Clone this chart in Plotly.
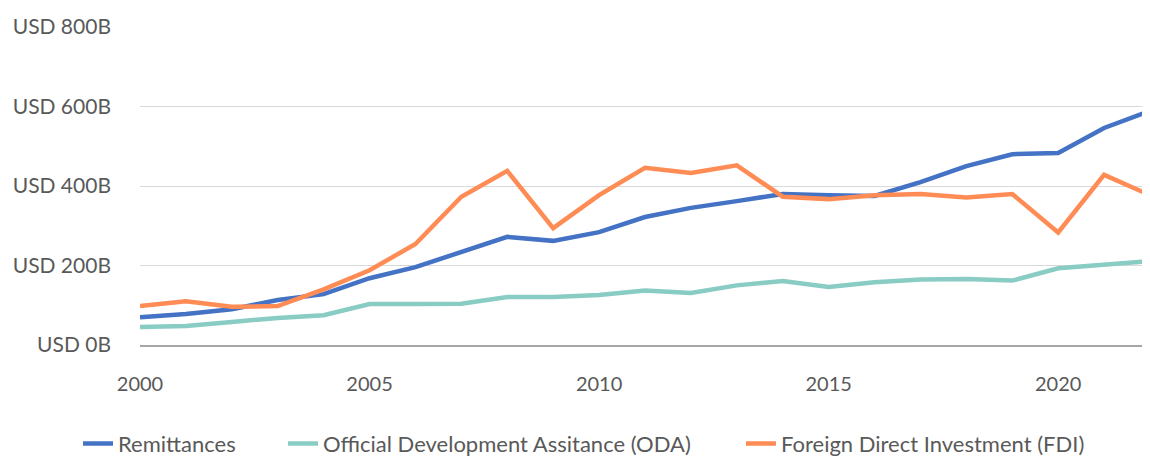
import plotly.graph_objects as go

years = list(range(2000, 2023))

# USD billions
remittances = [70, 78, 90, 113, 128, 168, 196, 234, 272, 262, 284, 322, 345, 362, 380,
               377, 375, 410, 450, 480, 483, 546, 589]
oda = [45, 48, 58, 68, 75, 103, 103, 104, 121, 121, 126, 137, 131, 150, 161,
       146, 158, 165, 166, 162, 193, 202, 211]
fdi = [98, 110, 96, 98, 140, 188, 254, 373, 438, 294, 377, 446, 433, 452, 373,
       367, 377, 380, 371, 380, 283, 428, 377]

y_ticks = [0, 200, 400, 600, 800]
y_labels = ["USD 0B", "USD 200B", "USD 400B", "USD 600B", "USD 800B"]
x_ticks = [2000, 2005, 2010, 2015, 2020]

font_name = "Lato"
grey = "#595959"

# page body has an 8px margin, so the figure is 8px smaller than the window
W, H = 1142, 451

fig = go.Figure()
fig.add_trace(go.Scatter(x=years, y=remittances, mode="lines", name="Remittances",
                         line=dict(color="#4472C4", width=4.5), legend="legend"))
fig.add_trace(go.Scatter(x=years, y=oda, mode="lines", name="Official Development Assitance (ODA)",
                         line=dict(color="#88CCC3", width=4.5), legend="legend2"))
fig.add_trace(go.Scatter(x=years, y=fdi, mode="lines", name="Foreign Direct Investment (FDI)",
                         line=dict(color="#FF8C55", width=4.5), legend="legend3"))

# one legend per series so each entry sits where the reference puts it
leg = dict(orientation="h", xref="container", xanchor="left",
           yref="paper", y=-0.31, yanchor="middle",
           font=dict(size=22, color=grey), itemwidth=30, bgcolor="rgba(0,0,0,0)")

fig.update_layout(
    width=W, height=H,
    margin=dict(l=132, r=0, t=19, b=114, autoexpand=False),
    plot_bgcolor="white", paper_bgcolor="white",
    font=dict(family=font_name, size=20, color=grey),
    showlegend=True,
    legend=dict(leg, x=(72 - 2) / W),
    legend2=dict(leg, x=(277 - 2) / W),
    legend3=dict(leg, x=(735 - 2) / W),
)
fig.update_xaxes(range=[2000, 2022], tickvals=x_ticks, showgrid=False,
                 showline=True, linecolor="#a6a6a6", linewidth=1.5,
                 ticks="", tickfont=dict(size=20, color=grey), ticklabelstandoff=20)
fig.update_yaxes(range=[0, 800], tickvals=y_ticks, ticktext=y_labels,
                 showgrid=True, gridcolor="#d9d9d9", gridwidth=1, zeroline=False,
                 ticks="", tickfont=dict(size=21, color=grey), ticklabelstandoff=28)

fig.write_html("out.html")
